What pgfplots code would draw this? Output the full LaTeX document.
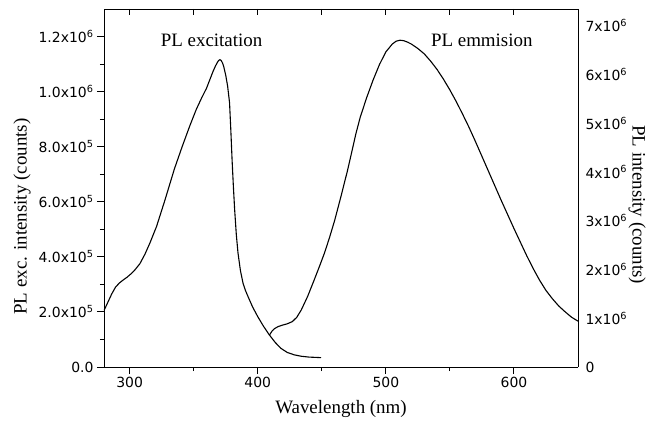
\documentclass[border=0pt]{standalone}
\usepackage{fontspec}
\setmainfont{Liberation Serif}
\newfontfamily\tickfont{DejaVu Sans}
\usepackage{pgfplots}
\pgfplotsset{compat=1.18}

\newcommand{\sci}[2]{#1x10\textsuperscript{#2}}

\pgfplotsset{
  plbase/.style={
    width=474bp, height=358bp, scale only axis,
    at={(0,0)}, anchor=south west,
    xmin=280, xmax=650,
    axis line style={-, line width=0.9bp},
    every tick/.style={black, line width=0.9bp},
    /pgf/number format/assume math mode=true,
    tick label style={font=\tickfont\fontsize{14}{16}\selectfont},
    label style={font=\fontsize{19}{21}\selectfont},
  }
}

\begin{document}
\begin{tikzpicture}
\path[use as bounding box] (-104bp,-54bp) rectangle (546bp,367bp);

% left axis: excitation
\begin{axis}[plbase,
  ymin=0, ymax=1.3e6,
  axis x line*=bottom, axis y line*=left,
  tick align=outside,
  major tick length=7bp, minor tick length=4bp,
  xtick={300,400,500,600}, minor xtick={350,450,550},
  ytick={0,2e5,4e5,6e5,8e5,1e6,1.2e6},
  yticklabels={0.0,\sci{2.0}{5},\sci{4.0}{5},\sci{6.0}{5},\sci{8.0}{5},\sci{1.0}{6},\sci{1.2}{6}},
  minor ytick={1e5,3e5,5e5,7e5,9e5,1.1e6},
  scaled y ticks=false,
  xlabel={Wavelength (nm)},
  xlabel style={at={(rel axis cs:0.5,0)}, anchor=center, yshift=-42bp},
  ylabel={PL exc. intensity (counts)},
  ylabel style={at={(rel axis cs:-0.173,0.42)}, anchor=center},
]
\addplot[black, line width=1.1bp, line join=round] coordinates {
(280,0.205e6) (283,0.235e6) (286,0.265e6) (289,0.29e6) (292,0.305e6)
(295,0.316e6) (298,0.326e6) (301,0.338e6) (304,0.352e6) (308,0.375e6)
(312,0.41e6) (316,0.452e6) (321,0.51e6) (327.5,0.605e6) (335,0.72e6)
(341,0.80e6) (347,0.876e6) (352,0.935e6) (356,0.975e6) (360,1.012e6)
(363,1.048e6) (365,1.072e6) (367,1.093e6) (368.5,1.106e6) (369.5,1.113e6)
(370.5,1.116e6) (371.5,1.113e6) (372.5,1.104e6) (373.5,1.090e6)
(375,1.06e6) (376.5,1.02e6) (378,0.96e6) (379,0.86e6) (380,0.75e6)
(381,0.655e6) (382,0.57e6) (383.3,0.48e6) (384.6,0.414e6) (386.5,0.35e6)
(388.5,0.305e6) (390.5,0.277e6) (392.4,0.256e6) (396,0.218e6) (400,0.183e6)
(404.5,0.148e6) (409,0.117e6) (413.5,0.090e6) (418,0.068e6) (423,0.053e6)
(428.6,0.044e6) (434,0.039e6) (440,0.036e6) (449.4,0.034e6)
};
\node[font=\fontsize{19}{21}\selectfont] at (rel axis cs:0.227,0.913) {PL excitation};
\node[font=\fontsize{19}{21}\selectfont] at (rel axis cs:0.797,0.913) {PL emmision};
\end{axis}

% right axis: emission
\begin{axis}[plbase,
  ymin=0, ymax=7.34e6,
  axis x line*=top, axis y line*=right,
  tick align=inside,
  major tick length=6bp,
  xtick={300,350,400,450,500,550,600}, xticklabels={},
  ytick={0,1e6,2e6,3e6,4e6,5e6,6e6,7e6},
  yticklabels={0,\sci{1}{6},\sci{2}{6},\sci{3}{6},\sci{4}{6},\sci{5}{6},\sci{6}{6},\sci{7}{6}},
  ytick style={draw=none},
  yticklabel style={xshift=4bp},
  scaled y ticks=false,
  ylabel={PL intensity (counts)},
  ylabel style={at={(rel axis cs:1.125,0.453)}, anchor=center, rotate=180},
]
\addplot[black, line width=1.1bp, line join=round] coordinates {
(409.2,0.656e6) (411,0.73e6) (413,0.785e6) (416,0.83e6) (419.5,0.86e6)
(423,0.885e6) (427,0.93e6) (430.5,1.02e6) (434,1.17e6) (439,1.45e6)
(444,1.78e6) (448,2.05e6) (452,2.33e6) (456,2.65e6) (460,3.0e6)
(465,3.50e6) (470,4.02e6) (473.5,4.42e6) (476.6,4.78e6) (480,5.12e6)
(485,5.52e6) (490,5.88e6) (495,6.20e6) (500,6.46e6) (505,6.62e6)
(508,6.68e6) (511,6.70e6) (514,6.69e6) (517,6.66e6) (520,6.62e6)
(525,6.53e6) (530,6.42e6) (535,6.27e6) (540,6.10e6) (545,5.90e6)
(550,5.68e6) (555,5.44e6) (560,5.18e6) (565,4.91e6) (570,4.62e6)
(575,4.32e6) (580,4.02e6) (585,3.72e6) (590,3.42e6) (595,3.13e6)
(600,2.84e6) (605,2.56e6) (610,2.28e6) (615,2.02e6) (620,1.78e6)
(625,1.57e6) (630,1.40e6) (635,1.25e6) (640,1.13e6) (645,1.02e6)
(650,0.94e6)
};
\end{axis}
\end{tikzpicture}
\end{document}
